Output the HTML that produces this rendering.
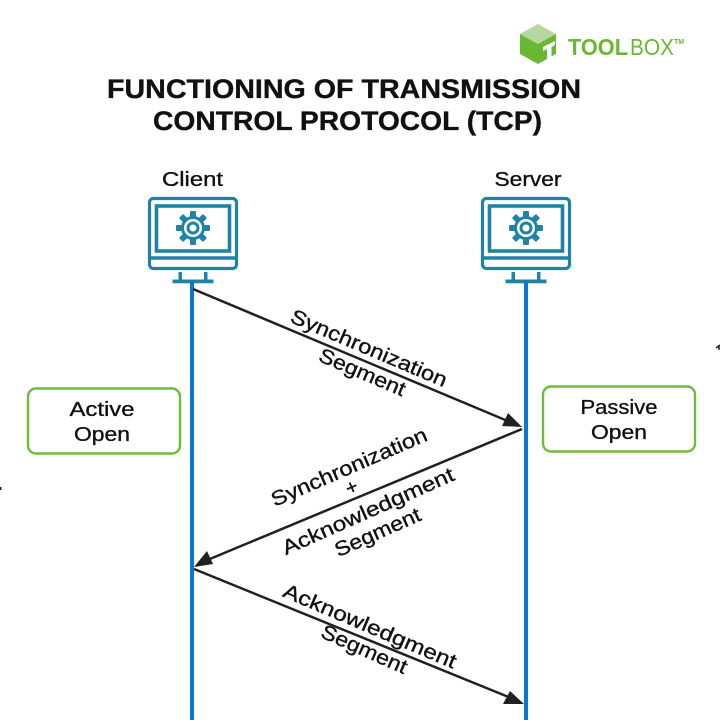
<!DOCTYPE html>
<html><head><meta charset="utf-8"><style>
html,body{margin:0;padding:0;background:#fff;width:720px;height:720px;overflow:hidden}
svg{display:block}
text{font-family:"Liberation Sans",sans-serif;fill:#111}
.m{stroke:#111;stroke-width:.35px}
</style></head><body>
<svg width="720" height="720" viewBox="0 0 720 720" xmlns="http://www.w3.org/2000/svg">
<defs>
<g id="gear">
<g fill="#1f83a6">
<rect x="-3" y="-17" width="6" height="34" rx="1"/>
<rect x="-3" y="-17" width="6" height="34" rx="1" transform="rotate(45)"/>
<rect x="-3" y="-17" width="6" height="34" rx="1" transform="rotate(90)"/>
<rect x="-3" y="-17" width="6" height="34" rx="1" transform="rotate(135)"/>
</g>
<circle r="12" fill="#1f83a6"/>
<circle r="9" fill="#fff"/>
<circle r="5" fill="#fff" stroke="#1f83a6" stroke-width="3"/>
</g>
<g id="pc">
<rect x="1.500" y="1.500" width="87" height="70" rx="4" fill="#fff" stroke="#1f83a6" stroke-width="3.200"/>
<rect x="8.500" y="9" width="73" height="45" fill="#fff" stroke="#1f83a6" stroke-width="3.600"/>
<line x1="0" y1="61" x2="90" y2="61" stroke="#1f83a6" stroke-width="3.400"/>
<use href="#gear" x="45" y="31"/>
<rect x="24.500" y="82.500" width="41" height="3.800" fill="#1f83a6"/>
<rect x="30.500" y="75" width="3.500" height="9" fill="#1f83a6"/>
<rect x="56" y="75" width="3.500" height="9" fill="#1f83a6"/>
</g>
</defs>

<!-- logo -->
<polygon points="538,24 556,34 538,44 520,34" fill="#b7d7a0"/>
<polygon points="520,34 538,44 538,64 520,54" fill="#69b834"/>
<polygon points="556,34 538,44 538,64 556,54" fill="#69b834"/>
<polygon points="543,47 555,41 555,45 551.500,47 551.500,57 547,59.500 547,49 543,51" fill="#fff"/>
<text x="568" y="55" font-size="23" font-weight="700" style="fill:#6ab82f" textLength="60" lengthAdjust="spacingAndGlyphs">TOOL</text>
<text x="630" y="55" font-size="23" style="fill:#6ab82f" textLength="44" lengthAdjust="spacingAndGlyphs">BOX</text>
<text x="674" y="44" font-size="7" font-weight="700" style="fill:#6ab82f">TM</text>

<!-- title -->
<text class="m" x="344" y="98" text-anchor="middle" font-size="27" font-weight="700" textLength="474" lengthAdjust="spacingAndGlyphs">FUNCTIONING OF TRANSMISSION</text>
<text class="m" x="347.500" y="130" text-anchor="middle" font-size="27" font-weight="700" textLength="389" lengthAdjust="spacingAndGlyphs">CONTROL PROTOCOL (TCP)</text>

<text class="m" x="192.500" y="186" text-anchor="middle" font-size="20" textLength="61" lengthAdjust="spacingAndGlyphs">Client</text>
<text class="m" x="528" y="186" text-anchor="middle" font-size="20" textLength="67" lengthAdjust="spacingAndGlyphs">Server</text>

<use href="#pc" x="148" y="197"/>
<use href="#pc" x="481" y="197"/>

<!-- lifelines -->
<rect x="190" y="280" width="4" height="440" fill="#0a78d2"/>
<rect x="524" y="280" width="4" height="440" fill="#0a78d2"/>

<!-- arrows -->
<g stroke="#231f20" stroke-width="2.500" fill="none">
<line x1="193" y1="289" x2="510" y2="422"/>
<line x1="522" y1="429" x2="205" y2="561"/>
<line x1="194" y1="569" x2="511" y2="698"/>
</g>
<g fill="#231f20">
<polygon points="522,427 502,426 508,413"/>
<polygon points="194,567 207,551 213,564"/>
<polygon points="524,704 510,691 503,704"/>
</g>

<!-- arrow labels -->
<g class="m" font-size="20.500" text-anchor="middle">
<text transform="translate(369,348) rotate(23) translate(0,7)" textLength="168" lengthAdjust="spacingAndGlyphs">Synchronization</text>
<text transform="translate(362,373) rotate(23) translate(0,6)" textLength="92" lengthAdjust="spacingAndGlyphs">Segment</text>
<text transform="translate(349,467) rotate(-23.500) translate(0,7)" textLength="168" lengthAdjust="spacingAndGlyphs">Synchronization</text>
<text transform="translate(352,488) rotate(-23.500) translate(0,6)">+</text>
<text transform="translate(368,511) rotate(-24) translate(0,7)" textLength="186" lengthAdjust="spacingAndGlyphs">Acknowledgment</text>
<text transform="translate(378,533) rotate(-24) translate(0,6)" textLength="92" lengthAdjust="spacingAndGlyphs">Segment</text>
<text transform="translate(370,626) rotate(23) translate(0,7)" textLength="186" lengthAdjust="spacingAndGlyphs">Acknowledgment</text>
<text transform="translate(364,650) rotate(24) translate(0,6)" textLength="92" lengthAdjust="spacingAndGlyphs">Segment</text>
</g>

<!-- boxes -->
<rect x="28" y="388.500" width="152" height="65" rx="8" fill="#fff" stroke="#6fbb3c" stroke-width="2.400"/>
<text class="m" x="102" y="416" text-anchor="middle" font-size="20" textLength="65" lengthAdjust="spacingAndGlyphs">Active</text>
<text class="m" x="102" y="441" text-anchor="middle" font-size="20" textLength="56" lengthAdjust="spacingAndGlyphs">Open</text>
<rect x="543" y="386.500" width="152" height="65" rx="8" fill="#fff" stroke="#6fbb3c" stroke-width="2.400"/>
<text class="m" x="619" y="414" text-anchor="middle" font-size="20" textLength="77" lengthAdjust="spacingAndGlyphs">Passive</text>
<text class="m" x="619" y="439" text-anchor="middle" font-size="20" textLength="56" lengthAdjust="spacingAndGlyphs">Open</text>

<!-- cropped stray marks at edges -->
<path d="M716 348 L720 345 M719 345 V350" stroke="#222" stroke-width="1.500" fill="none"/>
<rect x="0" y="487" width="1.500" height="3" fill="#222"/>
</svg>
</body></html>
